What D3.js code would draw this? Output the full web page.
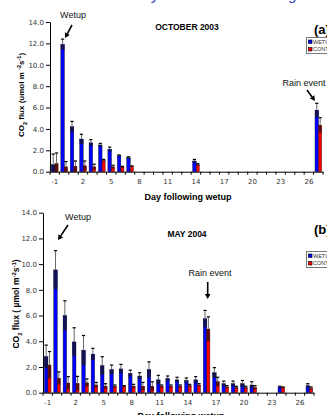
<!DOCTYPE html>
<html><head><meta charset="utf-8">
<script src="https://cdn.jsdelivr.net/npm/d3@7"></script>
<style>body{margin:0;background:#fff;overflow:hidden} svg{display:block}</style>
</head><body>
<script>
// ---- DATA ----
const days = d3.range(-1, 28);               // categories: day -1 .. 27
const tickDays = [-1, 2, 5, 8, 11, 14, 17, 20, 23, 26];
const yTicks = [0, 2, 4, 6, 8, 10, 12, 14];
const seriesNames = ["WETUP", "CONTROL"];

// (a) October 2003
const octWet    = [0.65, 11.9, 4.2, 3.05, 2.7, 2.5, 2.1, 1.5, 1.3, null, null, null, null, null, null, 1.0, null, null, null, null, null, null, null, null, null, null, null, null, 5.75];
const octWetErr = [1.0, 0.5, 0.5, 0.45, 0.3, 0.15, 0.2, 0.07, 0.1, null, null, null, null, null, null, 0.15, null, null, null, null, null, null, null, null, null, null, null, null, 0.65];
const octCon    = [0.75, 0.45, 0.5, 0.55, 0.45, 1.05, 0.45, 0.45, 0.5, null, null, null, null, null, null, 0.65, null, null, null, null, null, null, null, null, null, null, null, null, 4.35];
const octConErr = [1.0, 0.5, 0.5, 0.45, 0.25, 0.1, 0.15, 0.05, 0.05, null, null, null, null, null, null, 0.1, null, null, null, null, null, null, null, null, null, null, null, null, 0.7];

// (b) May 2004
const mayWet    = [2.8, 9.55, 6.0, 3.95, 3.3, 3.0, 2.1, 1.8, 1.85, 1.5, 1.3, 1.8, 1.0, 1.1, 1.0, 0.95, 1.0, 5.75, 1.55, 0.7, 0.7, 0.7, 0.6, null, null, 0.45, null, null, 0.55];
const mayWetErr = [0.9, 1.5, 1.15, 1.1, 1.15, 0.45, 0.7, 0.35, 0.35, 0.25, 0.25, 0.6, 0.35, 0.2, 0.2, 0.2, 0.25, 0.65, 0.4, 0.2, 0.2, 0.25, 0.25, null, null, 0.05, null, null, 0.15];
const mayCon    = [2.15, 1.12, 0.75, 0.72, 0.77, 0.6, 0.5, 0.5, 0.5, 0.5, 0.5, 0.5, 0.5, 0.5, 0.5, 0.55, 0.6, 4.95, 0.85, 0.45, 0.4, 0.4, 0.4, null, null, 0.4, null, null, 0.35];
const mayConErr = [1.05, 0.5, 0.5, 0.55, 0.3, 0.2, 0.2, 0.1, 0.05, 0.15, 0.3, 0.35, 0.1, 0.1, 0.1, 0.1, 0.1, 0.95, 0.35, 0.1, 0.1, 0.1, 0.15, null, null, 0.05, null, null, 0.1];

// ---- DRAW ----
const W = 327, H = 415;
const svg = d3.select("body").append("svg").attr("width", W).attr("height", H);
const tickFont = "'DejaVu Sans', Verdana, sans-serif";
const labFont = "'Liberation Sans', Arial, sans-serif";

// cut-off blue heading at very top
svg.append("text").attr("x", 152).attr("y", 0).attr("font-family", labFont)
  .attr("font-size", 15).attr("font-style", "italic").attr("fill", "#3a3ac8").text("y");
svg.append("text").attr("x", 288).attr("y", 0).attr("font-family", labFont)
  .attr("font-size", 15).attr("fill", "#3a3ac8").text("g");

const colors = {
  wet: {light: "#0000ff", dark: "#12124e"},
  con: {light: "#ff0000", dark: "#5c0c0c"}
};

function panel(cfg) {
  const g = svg.append("g");
  const x = d3.scaleBand().domain(days).range([cfg.x0, cfg.x1]).paddingInner(0).paddingOuter(0);
  const y = d3.scaleLinear().domain([0, 14]).range([cfg.yb, cfg.yt]);
  const step = x.step();

  const series = [
    {vals: cfg.wet, errs: cfg.wetErr, c: colors.wet, off: 0.15, w: 0.38},
    {vals: cfg.con, errs: cfg.conErr, c: colors.con, off: 0.53, w: 0.33}
  ];
  series.forEach(s => {
    const data = days.map((d, i) => ({d, v: s.vals[i], e: s.errs[i]})).filter(o => o.v != null);
    const bg = g.append("g");
    bg.selectAll("rect.bar").data(data).join("rect").attr("class", "bar")
      .attr("x", o => x(o.d) + step * s.off).attr("width", step * s.w)
      .attr("y", o => y(o.v)).attr("height", o => y(0) - y(o.v))
      .attr("fill", s.c.light).attr("stroke", "#111").attr("stroke-width", 0.4);
    bg.selectAll("rect.dark").data(data).join("rect").attr("class", "dark")
      .attr("x", o => x(o.d) + step * s.off).attr("width", step * s.w)
      .attr("y", o => y(o.v)).attr("height", o => y(Math.max(0, o.v - o.e)) - y(o.v))
      .attr("fill", s.c.dark);
    bg.selectAll("line.err").data(data).join("line").attr("class", "err")
      .attr("x1", o => x(o.d) + step * (s.off + s.w / 2)).attr("x2", o => x(o.d) + step * (s.off + s.w / 2))
      .attr("y1", o => y(o.v)).attr("y2", o => y(o.v + o.e))
      .attr("stroke", "#666").attr("stroke-width", 1);
    bg.selectAll("line.cap").data(data).join("line").attr("class", "cap")
      .attr("x1", o => x(o.d) + step * (s.off + s.w / 2) - 1.6).attr("x2", o => x(o.d) + step * (s.off + s.w / 2) + 1.6)
      .attr("y1", o => y(o.v + o.e)).attr("y2", o => y(o.v + o.e))
      .attr("stroke", "#000").attr("stroke-width", 1.2);
  });

  // y axis
  const ya = g.append("g").attr("transform", `translate(${cfg.x0},0)`)
    .call(d3.axisLeft(y).tickValues(yTicks).tickFormat(d3.format(".1f")).tickSize(4).tickSizeOuter(0));
  ya.select(".domain").attr("stroke", "#000");
  ya.selectAll(".tick line").attr("stroke", "#000");
  ya.selectAll("text").attr("font-family", tickFont).attr("font-size", 7).attr("fill", "#333").attr("x", -6);

  // x axis
  const xa = g.append("g").attr("transform", `translate(0,${cfg.yb})`)
    .call(d3.axisBottom(x).tickValues(days).tickFormat(d => tickDays.includes(d) ? d : "").tickSize(3).tickSizeOuter(0));
  xa.select(".domain").attr("stroke", "#000");
  xa.selectAll(".tick line").attr("stroke", "#000").attr("transform", `translate(${-step / 2},0)`);
  xa.append("line").attr("x1", cfg.x1).attr("x2", cfg.x1).attr("y1", 0).attr("y2", 3).attr("stroke", "#000");
  xa.selectAll("text").attr("font-family", tickFont).attr("font-size", 7).attr("fill", "#333").attr("y", 7);

  // titles
  g.append("text").attr("x", cfg.titleX).attr("y", cfg.titleY).attr("text-anchor", "middle")
    .attr("font-family", labFont).attr("font-weight", "bold").attr("font-size", 8.5).text(cfg.title);
  g.append("text").attr("x", 314).attr("y", cfg.tagY).attr("font-family", labFont)
    .attr("font-weight", "bold").attr("font-size", 13).text(cfg.tag);
  g.append("text").attr("x", cfg.xtX).attr("y", cfg.xtY).attr("text-anchor", "middle")
    .attr("font-family", labFont).attr("font-weight", "bold").attr("font-size", 9).text("Day following wetup");

  // y label
  const yl = g.append("text").attr("transform", `translate(${cfg.ylX},${cfg.ylY}) rotate(-90)`)
    .attr("text-anchor", "middle").attr("font-family", labFont).attr("font-weight", "bold").attr("font-size", cfg.ylSize);
  yl.append("tspan").text("CO");
  yl.append("tspan").attr("baseline-shift", "sub").attr("font-size", cfg.ylSize * 0.7).text("2");
  yl.append("tspan").text(cfg.ylMid);
  yl.append("tspan").attr("baseline-shift", "super").attr("font-size", cfg.ylSize * 0.7).text("-2");
  yl.append("tspan").text("s");
  yl.append("tspan").attr("baseline-shift", "super").attr("font-size", cfg.ylSize * 0.7).text("-1");
  yl.append("tspan").text(")");

  // legend
  const lg = g.append("g").attr("transform", `translate(306,${cfg.legY})`);
  lg.append("rect").attr("x", 0.5).attr("y", 0.5).attr("width", 30).attr("height", 16)
    .attr("fill", "#fff").attr("stroke", "#777").attr("stroke-width", 1);
  [colors.wet, colors.con].forEach((c, i) => {
    lg.append("rect").attr("x", 2.5).attr("y", 3 + i * 7.5).attr("width", 3.5).attr("height", 3.5)
      .attr("fill", c.light).attr("stroke", "#000").attr("stroke-width", 0.6);
    lg.append("text").attr("x", 7).attr("y", 6.8 + i * 7.5).attr("font-family", labFont)
      .attr("font-size", 5.5).attr("fill", "#333").text(seriesNames[i]);
  });

  // annotations
  cfg.notes.forEach(n => {
    g.append("text").attr("x", n.tx).attr("y", n.ty).attr("text-anchor", "middle")
      .attr("font-family", labFont).attr("font-size", 9).attr("fill", "#111").text(n.text);
    const ang = Math.atan2(n.y2 - n.y1, n.x2 - n.x1);
    const hl = 5, hw = 2.8;
    const bx = n.x2 - hl * Math.cos(ang), by = n.y2 - hl * Math.sin(ang);
    g.append("line").attr("x1", n.x1).attr("y1", n.y1).attr("x2", bx).attr("y2", by)
      .attr("stroke", "#000").attr("stroke-width", 1.6);
    g.append("path").attr("d", `M${n.x2},${n.y2} L${bx - hw * Math.sin(ang)},${by + hw * Math.cos(ang)} L${bx + hw * Math.sin(ang)},${by - hw * Math.cos(ang)} Z`)
      .attr("fill", "#000");
  });
}

panel({
  x0: 50, x1: 323, yt: 22, yb: 171.7,
  wet: octWet, wetErr: octWetErr, con: octCon, conErr: octConErr,
  title: "OCTOBER 2003", titleX: 187, titleY: 29.5, tag: "(a)", tagY: 33.5,
  xtX: 188, xtY: 200, ylX: 24, ylY: 95, ylSize: 8, ylMid: " flux (umol m ",
  legY: 37,
  notes: [
    {text: "Wetup", tx: 73, ty: 18, x1: 72, y1: 25, x2: 65, y2: 38},
    {text: "Rain event", tx: 304, ty: 86, x1: 307, y1: 90, x2: 315, y2: 101}
  ]
});

panel({
  x0: 43, x1: 314, yt: 212.7, yb: 392.7,
  wet: mayWet, wetErr: mayWetErr, con: mayCon, conErr: mayConErr,
  title: "MAY 2004", titleX: 187, titleY: 236.5, tag: "(b)", tagY: 234,
  xtX: 181, xtY: 419, ylX: 19, ylY: 304, ylSize: 8.5, ylMid: " flux ( \u00b5mol m",
  legY: 251,
  notes: [
    {text: "Wetup", tx: 78, ty: 220, x1: 68, y1: 225, x2: 58, y2: 240},
    {text: "Rain event", tx: 210, ty: 276, x1: 207.7, y1: 282, x2: 207.7, y2: 299}
  ]
});
</script>
</body></html>
